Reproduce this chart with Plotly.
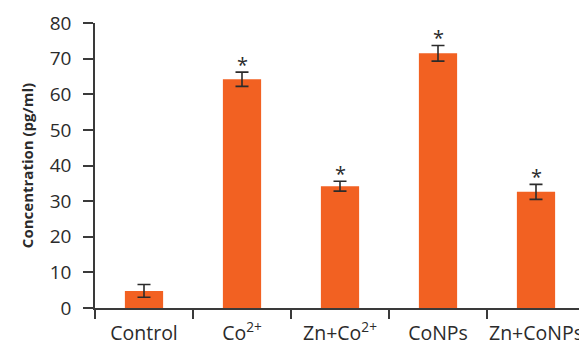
import plotly.graph_objects as go

categories = ["Control", "Co<sup>2+</sup>", "Zn+Co<sup>2+</sup>", "CoNPs", "Zn+CoNPs"]
values = [4.8, 64.2, 34.2, 71.5, 32.6]
errors = [1.8, 2.0, 1.4, 2.2, 2.1]
significant = [False, True, True, True, True]
y_ticks = [0, 10, 20, 30, 40, 50, 60, 70, 80]

FONT = "Open Sans"
AXIS_COLOR = "#3a3a3a"
TEXT_COLOR = "#2b2b2b"

fig = go.Figure()
fig.add_trace(go.Bar(
    x=categories, y=values, width=0.39,
    marker=dict(color="#F26122", line=dict(width=0)),
    error_y=dict(type="data", array=errors, visible=True,
                 color=TEXT_COLOR, thickness=1.6, width=6.5),
    showlegend=False,
))

for c, v, e, s in zip(categories, values, errors, significant):
    if s:
        fig.add_annotation(x=c, y=v + e, text="*", showarrow=False,
                           yanchor="bottom", yshift=-8,
                           font=dict(family=FONT, size=20, color=TEXT_COLOR))

# page body has an 8px default margin, so the figure is sized to fit after it
fig.update_layout(
    width=579, height=341,
    margin=dict(l=87, r=2, t=15, b=41),
    plot_bgcolor="white", paper_bgcolor="white",
    font=dict(family=FONT, size=19, color=TEXT_COLOR),
    xaxis=dict(
        automargin=False, tickangle=0,
        showline=True, linecolor=AXIS_COLOR, linewidth=1.5,
        ticks="outside", ticklen=9, tickwidth=1.5, tickcolor=AXIS_COLOR,
        tickson="boundaries", range=[-0.5, 4.5],
        tickfont=dict(family=FONT, size=19.5, color=TEXT_COLOR),
        ticklabelstandoff=7, showgrid=False, zeroline=False,
    ),
    yaxis=dict(
        automargin=False,
        range=[0, 80], tickvals=y_ticks,
        showline=True, linecolor=AXIS_COLOR, linewidth=1.5,
        ticks="outside", ticklen=10, tickwidth=1.5, tickcolor=AXIS_COLOR,
        tickfont=dict(family=FONT, size=19, color=TEXT_COLOR),
        ticklabelstandoff=8, showgrid=False, zeroline=False,
        title=dict(text="<b>Concentration (pg/ml)</b>", standoff=12,
                   font=dict(family=FONT, size=15, color=TEXT_COLOR)),
    ),
)

fig.write_html("out.html")
